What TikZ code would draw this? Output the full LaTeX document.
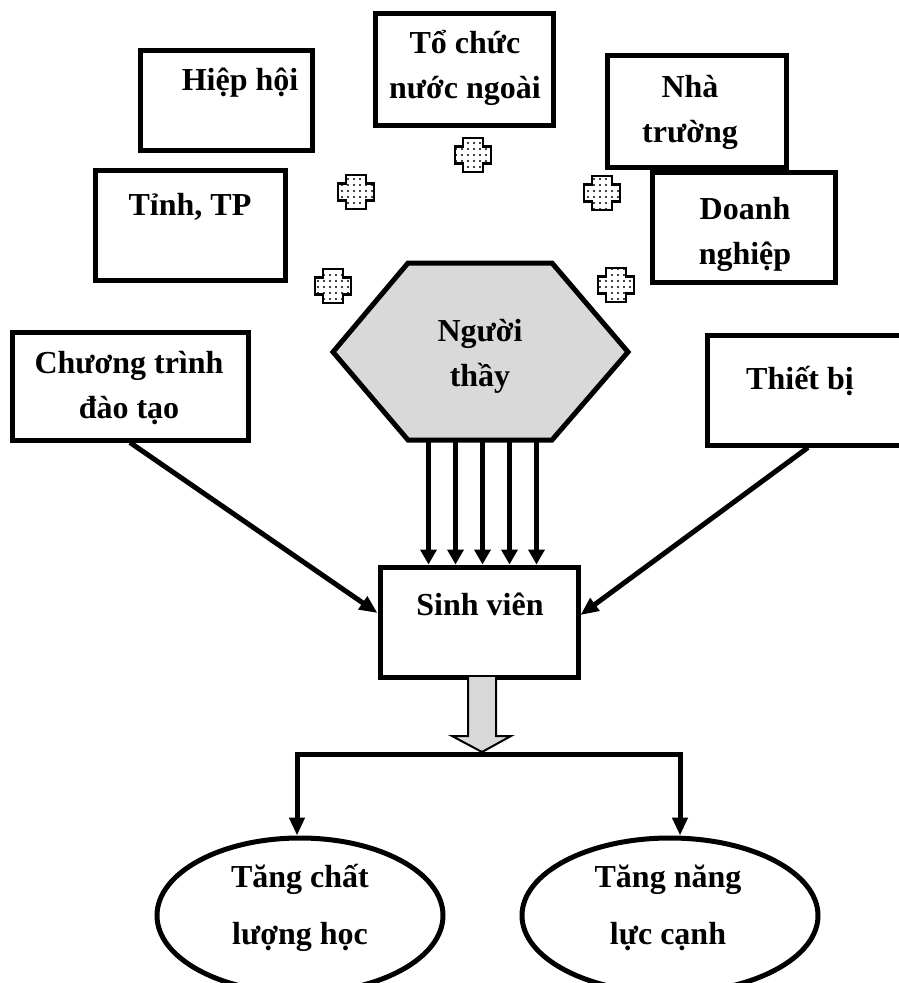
\documentclass[tikz,border=0pt]{standalone}
\usepackage{fontspec}
\setmainfont{Liberation Serif}
\usetikzlibrary{arrows.meta,patterns.meta,shapes.geometric}
\definecolor{panelgray}{HTML}{D9D9D9}
\begin{document}
\begin{tikzpicture}[x=1pt,y=-1pt,
  box/.style={draw, line width=5pt, rectangle, inner sep=0pt},
  txt/.style={font=\fontsize{32}{45}\selectfont\bfseries, align=center, inner sep=0pt},
  etxt/.style={font=\fontsize{32}{57}\selectfont\bfseries, align=center, inner sep=0pt},
  link/.style={line width=5pt, -{Triangle[length=18pt,width=15pt]}},
  fan/.style={line width=5pt, -{Triangle[length=15pt,width=16pt]}},
  oval/.style={draw, ellipse, line width=5pt, inner sep=0pt},
  plusmark/.pic={
    \draw[line width=2.5pt, pattern={Dots[distance=6pt,radius=1.2pt]}]
      (-10,-17) -- (10,-17) -- (10,-8.5) -- (18,-8.5) -- (18,8.5) -- (10,8.5) -- (10,17)
      -- (-10,17) -- (-10,8.5) -- (-18,8.5) -- (-18,-8.5) -- (-10,-8.5) -- cycle;
  }
]
\useasboundingbox (0,0) rectangle (899,983);

% outer partner boxes
\node[box, minimum width=172pt, minimum height=100pt] (hiep) at (226,100) {};
\node[txt] (hiepT) at (240,83) {Hiệp hội};
\node[box, minimum width=178pt, minimum height=112pt] (tochuc) at (464,69) {};
\node[txt] (tochucT) at (465,68) {Tổ chức\\nước ngoài};
\node[box, minimum width=179pt, minimum height=112pt] (nhatruong) at (696.5,111) {};
\node[txt] (nhatruongT) at (690,112) {Nhà\\trường};
\node[box, minimum width=190pt, minimum height=110pt] (tinh) at (190,225) {};
\node[txt] (tinhT) at (190,207) {Tỉnh, TP};
\node[box, minimum width=183pt, minimum height=110pt] (doanh) at (743.5,227) {};
\node[txt] (doanhT) at (745,234) {Doanh\\nghiệp};

% cooperation marks
\pic at (356,192) {plusmark};
\pic at (473,155) {plusmark};
\pic at (602,193) {plusmark};
\pic at (333,286) {plusmark};
\pic at (616,285) {plusmark};

% teacher hexagon
\draw[line width=5pt, fill=panelgray] (408,263) -- (552,263) -- (628,352)
  -- (552,440) -- (408,440) -- (333,352) -- cycle;
\node[txt] (thay) at (480,356) {Người\\thầy};
\coordinate (hexbot) at (482.5,440);

% side inputs
\node[box, minimum width=236pt, minimum height=108pt] (ctdt) at (130,386) {};
\node[txt] (ctdtT) at (129,388) {Chương trình\\đào tạo};
\node[box, minimum width=202pt, minimum height=110pt] (thietbi) at (808,390) {};
\node[txt] (thietbiT) at (800,381) {Thiết bị};

% student box
\node[box, minimum width=198pt, minimum height=110pt] (sv) at (479,622) {};
\node[txt] (svT) at (480,604) {Sinh viên};

% connectors into the student box
\foreach \dx in {-54,-27,0,27,54}
  \draw[fan] ([xshift=\dx pt]hexbot) -- ([xshift=\dx pt]hexbot |- sv.north);
\draw[link] (ctdt.south) -- ([yshift=9pt]sv.west);
\draw[link] (thietbi.south) -- ([yshift=7pt]sv.east);

% outcome block arrow and split
\draw[line width=2pt, fill=panelgray] (468,677) -- (468,736) -- (452,736)
  -- (482,752) -- (511,736) -- (496,736) -- (496,677);
\coordinate (splitL) at (297,754);
\coordinate (splitR) at (680,754);
\draw[line width=5pt] ([xshift=-2.5pt]splitL) -- ([xshift=2.5pt]splitR);

% outcomes
\node[oval, minimum width=286pt, minimum height=155pt] (hoc) at (300,915.5) {};
\node[etxt] (hocT) at (300,908) {Tăng chất\\lượng học};
\node[oval, minimum width=296pt, minimum height=155pt] (canh) at (670,915.5) {};
\node[etxt] (canhT) at (668,908) {Tăng năng\\lực cạnh};

\draw[link] (splitL) -- (splitL |- hoc.north);
\draw[link] (splitR) -- (splitR |- canh.north);
\end{tikzpicture}
\end{document}
